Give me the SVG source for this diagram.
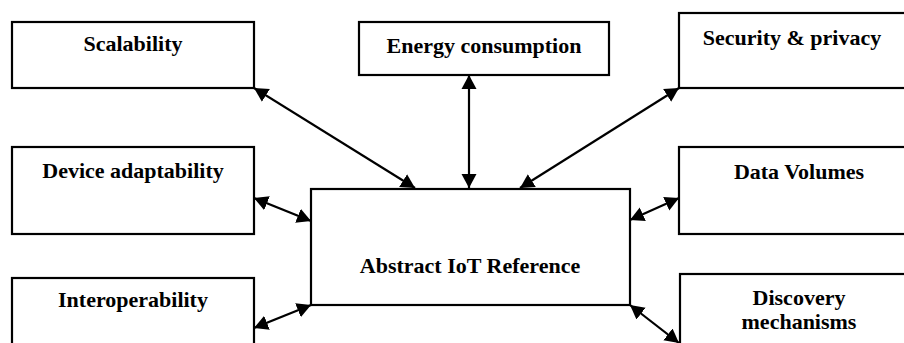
<svg xmlns="http://www.w3.org/2000/svg" width="904" height="343" viewBox="0 0 904 343">
  <style>
    .box { fill: #ffffff; stroke: #000000; stroke-width: 2.2; }
    .label { font-family: "Liberation Serif", "Times New Roman", serif; font-weight: bold; font-size: 22px; fill: #000000; text-anchor: middle; }
    .link { stroke: #000000; stroke-width: 2.2; fill: none; marker-start: url(#head); marker-end: url(#head); }
  </style>
  <defs>
    <marker id="head" markerUnits="userSpaceOnUse" markerWidth="15" markerHeight="16" viewBox="0 0 15 16" refX="14" refY="8" orient="auto-start-reverse">
      <path d="M0,0.5 L14,8 L0,15.5 Z" fill="#000000"/>
    </marker>
  </defs>
  <rect width="904" height="343" fill="#ffffff"/>

  <!-- connectors: double-headed links to the central block -->
  <g id="connectors">
    <line class="link" x1="254" y1="88" x2="415" y2="188"/>
    <line class="link" x1="469" y1="75" x2="469" y2="188"/>
    <line class="link" x1="679" y1="88" x2="520" y2="188"/>
    <line class="link" x1="254" y1="198" x2="311" y2="221"/>
    <line class="link" x1="254" y1="328" x2="311" y2="305"/>
    <line class="link" x1="679" y1="198" x2="630" y2="220"/>
    <line class="link" x1="630" y1="305" x2="679" y2="343"/>
  </g>

  <g id="scalability">
    <rect class="box" x="12" y="22" width="242" height="66"/>
    <text class="label" x="133" y="51">Scalability</text>
  </g>
  <g id="energy-consumption">
    <rect class="box" x="359" y="22" width="250" height="53"/>
    <text class="label" x="484" y="53">Energy consumption</text>
  </g>
  <g id="security-privacy">
    <rect class="box" x="679" y="13" width="240" height="75"/>
    <text class="label" x="792" y="45">Security &amp; privacy</text>
  </g>
  <g id="device-adaptability">
    <rect class="box" x="12" y="147" width="242" height="87"/>
    <text class="label" x="133" y="178">Device adaptability</text>
  </g>
  <g id="interoperability">
    <rect class="box" x="12" y="278" width="242" height="80"/>
    <text class="label" x="133" y="307">Interoperability</text>
  </g>
  <g id="abstract-iot-reference">
    <rect class="box" x="311" y="189" width="319" height="116"/>
    <text class="label" x="470" y="273">Abstract IoT Reference</text>
  </g>
  <g id="data-volumes">
    <rect class="box" x="679" y="147" width="240" height="87"/>
    <text class="label" x="799" y="179">Data Volumes</text>
  </g>
  <g id="discovery-mechanisms">
    <rect class="box" x="680" y="274" width="240" height="80"/>
    <text class="label" x="799" y="305">Discovery</text>
    <text class="label" x="799" y="329">mechanisms</text>
  </g>
</svg>
